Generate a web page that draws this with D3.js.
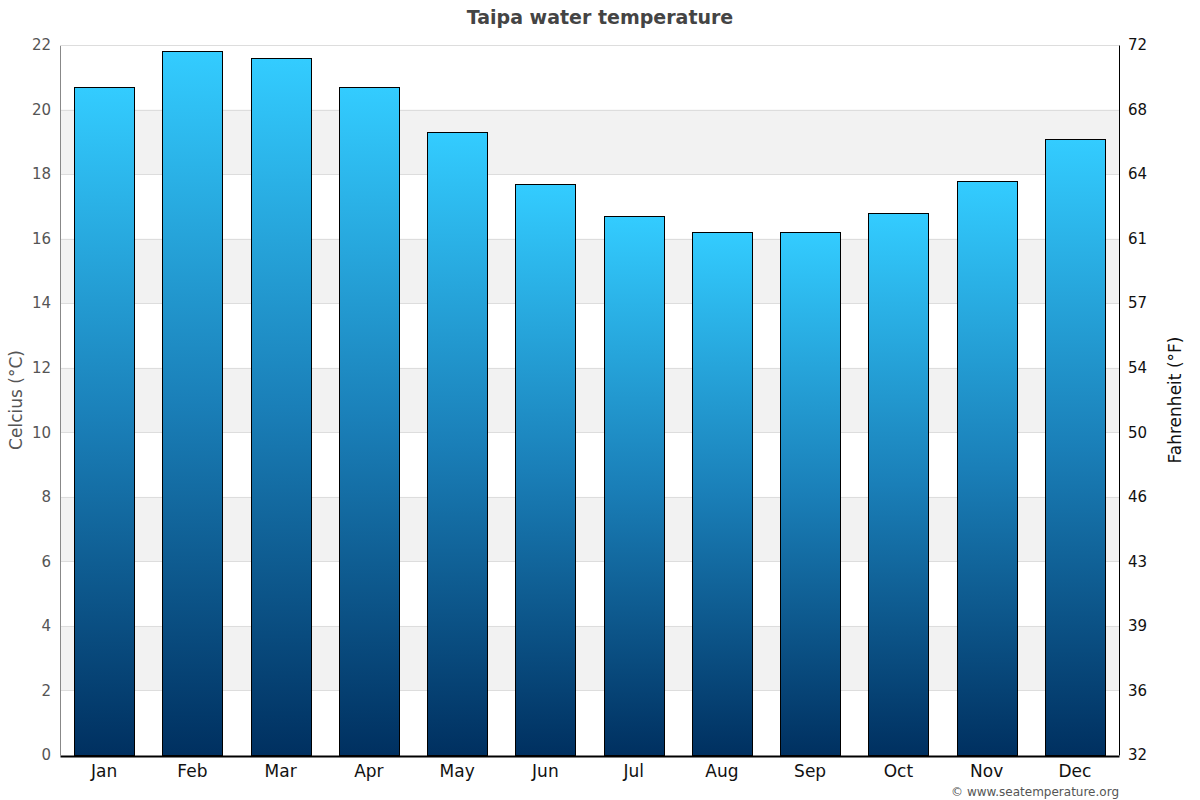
<!DOCTYPE html>
<html>
<head>
<meta charset="utf-8">
<script src="https://cdn.jsdelivr.net/npm/d3@7"></script>
<style>
  body { margin: 0; background: #fff; }
  svg { font-family: "DejaVu Sans", sans-serif; }
</style>
</head>
<body>
<div id="chart"></div>
<script>
// data
var months = ["Jan", "Feb", "Mar", "Apr", "May", "Jun", "Jul", "Aug", "Sep", "Oct", "Nov", "Dec"];
var tempC = [20.7, 21.8, 21.6, 20.7, 19.3, 17.7, 16.7, 16.2, 16.2, 16.8, 17.8, 19.1];
var celsiusTicks = [0, 2, 4, 6, 8, 10, 12, 14, 16, 18, 20, 22];

var width = 1200, height = 800;
// plot edges (note: "top" is reserved on window, so use other names)
var plotLeft = 60, plotRight = 1119, plotTop = 45, plotBottom = 755;

var svg = d3.select("#chart").append("svg")
            .attr("width", width)
            .attr("height", height);

var x = d3.scaleBand()
          .domain(months)
          .range([plotLeft, plotRight])
          .paddingInner(0.32)
          .paddingOuter(0.16);

var y = d3.scaleLinear()
          .domain([0, 22])
          .range([plotBottom, plotTop]);

// gradient for the bars
var grad = svg.append("defs").append("linearGradient")
              .attr("id", "barGrad")
              .attr("x1", 0).attr("y1", 0)
              .attr("x2", 0).attr("y2", 1);
grad.append("stop").attr("offset", "0%").attr("stop-color", "#33ccff");
grad.append("stop").attr("offset", "50%").attr("stop-color", "#1a7fb8");
grad.append("stop").attr("offset", "100%").attr("stop-color", "#003060");

// alternating bands
var bands = [];
for (var i = 0; i < celsiusTicks.length - 1; i++) {
    if (i % 2 == 1) bands.push([celsiusTicks[i], celsiusTicks[i + 1]]);
}
svg.append("g").selectAll("rect")
   .data(bands)
   .enter().append("rect")
   .attr("x", plotLeft)
   .attr("width", plotRight - plotLeft)
   .attr("y", d => y(d[1]))
   .attr("height", d => y(d[0]) - y(d[1]))
   .attr("fill", "#f2f2f2");

// grid lines
svg.append("g").selectAll("line")
   .data(celsiusTicks.slice(1))
   .enter().append("line")
   .attr("x1", plotLeft).attr("x2", plotRight)
   .attr("y1", d => Math.round(y(d)) + 0.5).attr("y2", d => Math.round(y(d)) + 0.5)
   .attr("stroke", "#dddddd");

// bars
svg.append("g").selectAll("rect")
   .data(tempC)
   .enter().append("rect")
   .attr("x", (d, i) => Math.round(x(months[i])) + 0.5)
   .attr("width", Math.round(x.bandwidth()))
   .attr("y", d => Math.round(y(d)) + 0.5)
   .attr("height", d => plotBottom - Math.round(y(d)))
   .attr("fill", "url(#barGrad)")
   .attr("stroke", "#000")
   .attr("stroke-width", 1);

// left axis
var yAxis = svg.append("g")
   .attr("transform", "translate(" + plotLeft + ",0)")
   .call(d3.axisLeft(y).tickValues(celsiusTicks).tickSize(0).tickPadding(9));
yAxis.select(".domain").attr("stroke", "#888");
yAxis.selectAll("text").attr("font-size", 15).attr("fill", "#555")
     .attr("font-family", "DejaVu Sans");

// right axis, Fahrenheit labels at the Celsius positions
var yAxisR = svg.append("g")
   .attr("transform", "translate(" + plotRight + ",0)")
   .call(d3.axisRight(y).tickValues(celsiusTicks).tickSize(0).tickPadding(9)
           .tickFormat(d => Math.round(d * 9 / 5 + 32)));
yAxisR.select(".domain").attr("stroke", "#000");
yAxisR.selectAll("text").attr("font-size", 15).attr("fill", "#111")
      .attr("font-family", "DejaVu Sans");

// bottom axis
var xAxis = svg.append("g")
   .attr("transform", "translate(0," + (plotBottom + 1) + ")")
   .call(d3.axisBottom(x).tickSize(0).tickPadding(9));
xAxis.select(".domain").attr("stroke", "#000").attr("stroke-width", 2);
xAxis.selectAll("text").attr("font-size", 17).attr("fill", "#111")
     .attr("font-family", "DejaVu Sans");

// top border line
svg.append("line")
   .attr("x1", plotLeft).attr("x2", plotRight)
   .attr("y1", plotTop + 0.5).attr("y2", plotTop + 0.5)
   .attr("stroke", "#dddddd");

// title
svg.append("text")
   .attr("x", 600).attr("y", 24)
   .attr("text-anchor", "middle")
   .attr("font-size", 19)
   .attr("font-weight", "bold")
   .attr("fill", "#444")
   .text("Taipa water temperature");

// axis titles
svg.append("text")
   .attr("transform", "translate(22," + ((plotTop + plotBottom) / 2) + ") rotate(-90)")
   .attr("text-anchor", "middle")
   .attr("font-size", 17)
   .attr("fill", "#555")
   .text("Celcius (°C)");

svg.append("text")
   .attr("transform", "translate(1181," + ((plotTop + plotBottom) / 2) + ") rotate(-90)")
   .attr("text-anchor", "middle")
   .attr("font-size", 17)
   .attr("fill", "#111")
   .text("Fahrenheit (°F)");

// credit
svg.append("text")
   .attr("x", 1119).attr("y", 796)
   .attr("text-anchor", "end")
   .attr("font-size", 12)
   .attr("fill", "#555")
   .text("© www.seatemperature.org");
</script>
</body>
</html>
